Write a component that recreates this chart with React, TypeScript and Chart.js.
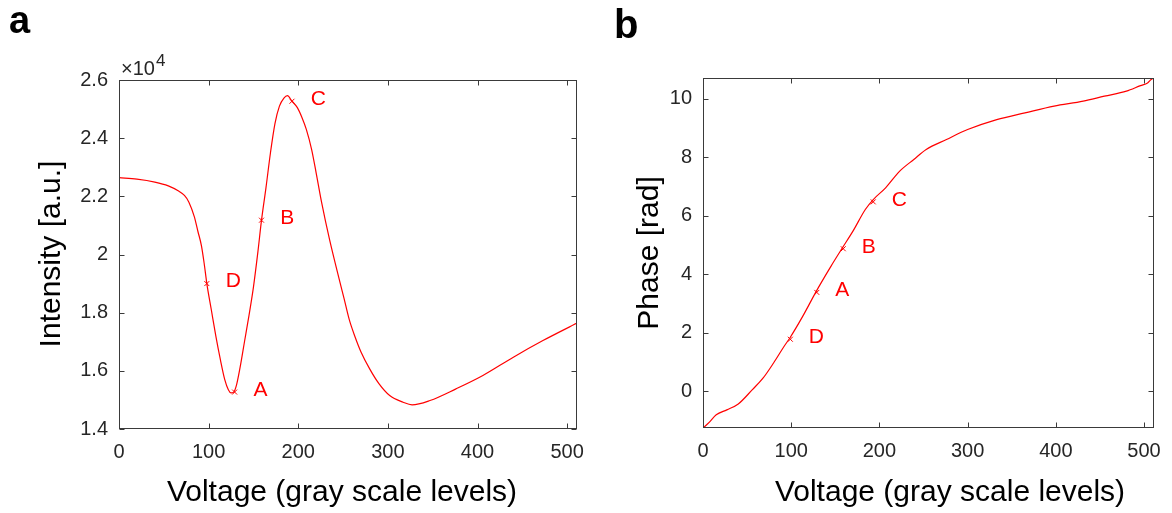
import React, { useEffect, useRef } from "react";
import { Chart, registerables } from "chart.js";

Chart.register(...registerables);

// ---- Panel a: intensity (x10^4 a.u.) vs voltage (gray levels)
const voltageA = [0, 20, 40, 55, 66, 73, 78, 84, 88, 92, 95, 98, 103, 108, 113, 118, 122, 125, 128, 131, 135, 140, 145, 150, 155, 159, 164, 169, 174, 179, 184, 188, 193, 199, 204, 209, 215, 220, 226, 235, 246, 251, 257, 263, 270, 280, 290, 302, 317, 327, 347, 376, 406, 440, 473, 511];
const intensityA = [2.264, 2.259, 2.249, 2.236, 2.219, 2.203, 2.18, 2.13, 2.08, 2.03, 1.97, 1.9, 1.81, 1.72, 1.64, 1.57, 1.535, 1.524, 1.527, 1.55, 1.61, 1.7, 1.79, 1.888, 2.01, 2.118, 2.23, 2.35, 2.45, 2.51, 2.538, 2.546, 2.527, 2.505, 2.472, 2.43, 2.36, 2.28, 2.18, 2.05, 1.911, 1.85, 1.775, 1.72, 1.665, 1.605, 1.556, 1.515, 1.492, 1.483, 1.498, 1.538, 1.584, 1.647, 1.704, 1.764];

// ---- Panel b: phase (rad) vs voltage
const voltageB = [0, 7, 15, 27, 40, 56, 68, 80, 92, 99, 113, 129, 145, 158, 170, 184, 193, 207, 223, 239, 253, 276, 300, 333, 365, 398, 431, 455, 480, 496, 504, 508, 511];
const phaseB = [-1.25, -1.06, -0.8, -0.63, -0.43, 0.06, 0.45, 0.97, 1.54, 1.85, 2.56, 3.45, 4.27, 4.9, 5.47, 6.21, 6.55, 6.95, 7.52, 7.92, 8.26, 8.6, 8.94, 9.28, 9.51, 9.74, 9.91, 10.08, 10.25, 10.44, 10.53, 10.65, 10.7];

// ---- Marked operating points
const markerLabels = ["D", "A", "B", "C"];
const markerVoltageA = [98, 129, 159, 193];
const markerIntensityA = [1.9, 1.527, 2.118, 2.527];
const markerVoltageB = [99, 129, 159, 193];
const markerPhaseB = [1.78, 3.38, 4.87, 6.47];
const labelShift = 21; // text offset in gray levels

// ---- Ticks
const xTicks = [0, 100, 200, 300, 400, 500];
const yTicksA = [1.4, 1.6, 1.8, 2.0, 2.2, 2.4, 2.6];
const yTicksB = [0, 2, 4, 6, 8, 10];

const FONT = '"Liberation Sans", Arial, Helvetica, sans-serif';
const TEXT = "#262626";
const RED = "#ff0000";

const decorPlugin = {
  id: "decor",
  afterDraw(chart: any, _args: any, opts: any) {
    const { ctx, chartArea: ca, scales } = chart;
    const xs = scales.x;
    const ys = scales.y;
    ctx.save();
    // box
    ctx.strokeStyle = "#3a3a3a";
    ctx.lineWidth = 1;
    const L = Math.round(ca.left) + 0.5;
    const R = Math.round(ca.right) - 0.5;
    const T = Math.round(ca.top) + 0.5;
    const B = Math.round(ca.bottom) - 0.5;
    ctx.strokeRect(L, T, R - L, B - T);
    // inner ticks on all sides
    const tl = 5;
    ctx.beginPath();
    opts.xTicks.forEach((v: number) => {
      const px = Math.round(xs.getPixelForValue(v)) + 0.5;
      ctx.moveTo(px, B);
      ctx.lineTo(px, B - tl);
      ctx.moveTo(px, T);
      ctx.lineTo(px, T + tl);
    });
    opts.yTicks.forEach((v: number) => {
      const py = Math.round(ys.getPixelForValue(v)) + 0.5;
      ctx.moveTo(L, py);
      ctx.lineTo(L + tl, py);
      ctx.moveTo(R, py);
      ctx.lineTo(R - tl, py);
    });
    ctx.stroke();

    // point labels
    ctx.fillStyle = RED;
    ctx.font = `21px ${FONT}`;
    ctx.textAlign = "left";
    ctx.textBaseline = "middle";
    opts.labels.forEach((lab: string, i: number) => {
      const px = xs.getPixelForValue(opts.mx[i] + labelShift);
      const py = ys.getPixelForValue(opts.my[i]);
      ctx.fillText(lab, px, py - 2);
    });

    // axis titles
    ctx.fillStyle = "#000";
    ctx.font = `30px ${FONT}`;
    ctx.textAlign = "center";
    ctx.textBaseline = "alphabetic";
    ctx.fillText(opts.xTitle, opts.xTitleX, opts.xTitleBase);
    ctx.save();
    ctx.translate(opts.yTitleBase, opts.yTitleY);
    ctx.rotate(-Math.PI / 2);
    ctx.fillText(opts.yTitle, 0, 0);
    ctx.restore();

    // panel letter
    ctx.textAlign = "left";
    ctx.font = `bold ${opts.letterSize}px ${FONT}`;
    ctx.fillText(opts.letter, opts.letterX, opts.letterBase);

    // exponent
    if (opts.exponent) {
      ctx.fillStyle = TEXT;
      ctx.font = `20px ${FONT}`;
      ctx.fillText("\u00d710", opts.exponent.x, opts.exponent.base);
      const w = ctx.measureText("\u00d710").width;
      ctx.font = `17px ${FONT}`;
      ctx.fillText("4", opts.exponent.x + w + 1, opts.exponent.base - 9);
    }
    ctx.restore();
  },
};

function makeConfig(p: any) {
  return {
    type: "line",
    data: {
      datasets: [
        {
          data: p.xs.map((x: number, i: number) => ({ x, y: p.ys[i] })),
          borderColor: RED,
          borderWidth: 1.2,
          pointRadius: 0,
          cubicInterpolationMode: "monotone",
          fill: false,
        },
        {
          data: p.mx.map((x: number, i: number) => ({ x, y: p.my[i] })),
          showLine: false,
          pointStyle: "crossRot",
          pointRadius: 3.5,
          borderColor: RED,
          borderWidth: 1,
          backgroundColor: RED,
        },
      ],
    },
    options: {
      responsive: false,
      animation: false,
      devicePixelRatio: 1,
      layout: { padding: { left: 0, top: p.top, right: p.right, bottom: 0 } },
      plugins: {
        legend: { display: false },
        tooltip: { enabled: false },
        decor: p.decor,
      },
      scales: {
        x: {
          type: "linear",
          min: 0,
          max: 511,
          grid: { display: false, drawTicks: false },
          border: { display: false },
          ticks: {
            font: { family: FONT, size: 20 },
            color: TEXT,
            padding: 11,
            maxRotation: 0,
            autoSkip: false,
            callback: (v: number) => String(v),
          },
          afterBuildTicks: (s: any) => {
            s.ticks = xTicks.map((v) => ({ value: v }));
          },
          afterFit: (s: any) => {
            s.height = p.xAxisH;
          },
        },
        y: {
          type: "linear",
          min: p.ymin,
          max: p.ymax,
          grid: { display: false, drawTicks: false },
          border: { display: false },
          ticks: {
            font: { family: FONT, size: 20 },
            color: TEXT,
            padding: 11,
            autoSkip: false,
            callback: (v: number) => String(Number(v.toFixed(2))),
          },
          afterBuildTicks: (s: any) => {
            s.ticks = p.yTicks.map((v: number) => ({ value: v }));
          },
          afterFit: (s: any) => {
            s.width = p.yAxisW;
          },
        },
      },
    },
    plugins: [decorPlugin],
  };
}

function Panel(props: { cfg: any; left: number; width: number }) {
  const ref = useRef<HTMLCanvasElement>(null);
  useEffect(() => {
    if (!ref.current) return;
    const chart = new Chart(ref.current, props.cfg);
    return () => chart.destroy();
  }, []);
  return (
    <canvas
      ref={ref}
      width={props.width}
      height={513}
      style={{ position: "absolute", left: props.left, top: 0, width: props.width, height: 513 }}
    />
  );
}

export default function App() {
  const cfgA = makeConfig({
    xs: voltageA,
    ys: intensityA,
    mx: markerVoltageA,
    my: markerIntensityA,
    ymin: 1.4,
    ymax: 2.6,
    yTicks: yTicksA,
    top: 80,
    right: 23,
    xAxisH: 84,
    yAxisW: 119,
    decor: {
      xTicks,
      yTicks: yTicksA,
      labels: markerLabels,
      mx: markerVoltageA,
      my: markerIntensityA,
      xTitle: "Voltage (gray scale levels)",
      xTitleX: 342,
      xTitleBase: 501,
      yTitle: "Intensity [a.u.]",
      yTitleBase: 60,
      yTitleY: 254,
      letter: "a",
      letterX: 9,
      letterBase: 33,
      letterSize: 38,
      exponent: { x: 121, base: 75 },
    },
  });
  const cfgB = makeConfig({
    xs: voltageB,
    ys: phaseB,
    mx: markerVoltageB,
    my: markerPhaseB,
    ymin: -1.25,
    ymax: 10.7,
    yTicks: yTicksB,
    top: 78,
    right: 12,
    xAxisH: 85,
    yAxisW: 103,
    decor: {
      xTicks,
      yTicks: yTicksB,
      labels: markerLabels,
      mx: markerVoltageB,
      my: markerPhaseB,
      xTitle: "Voltage (gray scale levels)",
      xTitleX: 350,
      xTitleBase: 501,
      yTitle: "Phase [rad]",
      yTitleBase: 58,
      yTitleY: 253,
      letter: "b",
      letterX: 14,
      letterBase: 38,
      letterSize: 40,
      exponent: null,
    },
  });
  return (
    <div style={{ position: "fixed", left: 0, top: 0, width: 1172, height: 513, background: "#fff" }}>
      <Panel cfg={cfgA} left={0} width={600} />
      <Panel cfg={cfgB} left={600} width={572} />
    </div>
  );
}
